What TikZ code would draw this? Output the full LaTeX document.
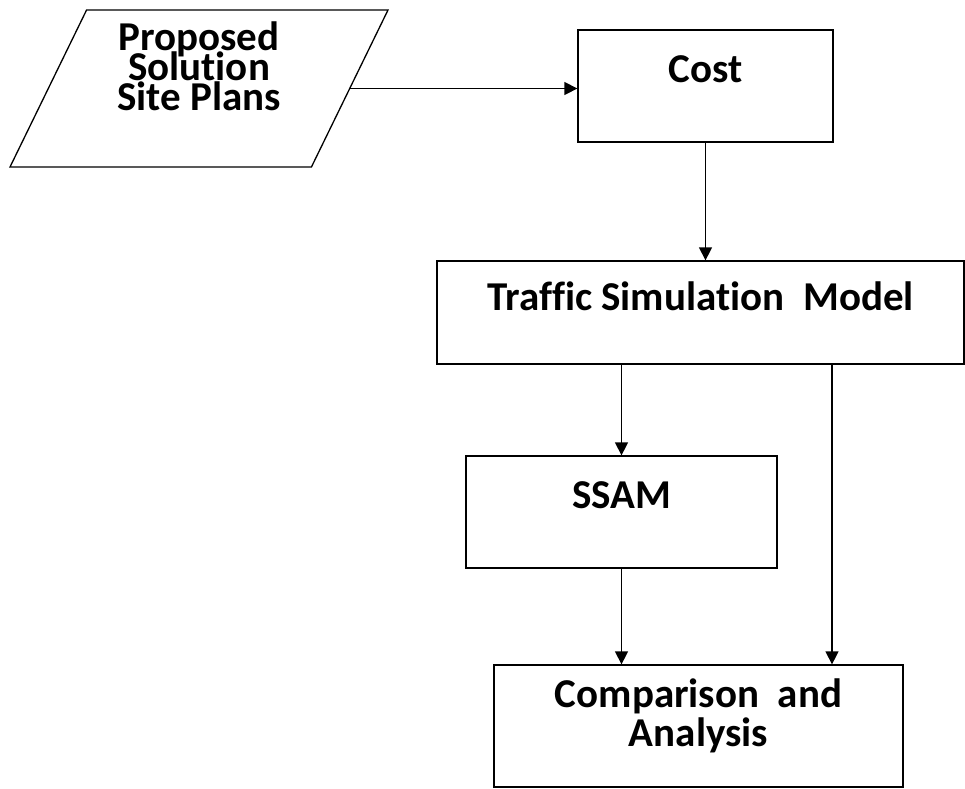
\documentclass[tikz,border=0pt]{standalone}
\usepackage{fontspec}
\setmainfont{Carlito}[Ligatures=NoCommon]
\usetikzlibrary{shapes.geometric, arrows.meta, positioning, calc}
\newcommand{\tightlines}{\lineskiplimit=-50pt\relax}
\tikzstyle{box} = [rectangle, draw=black, line width=1.3pt, inner sep=0pt, align=center, font=\bfseries\fontsize{41}{39}\selectfont]
\tikzstyle{io} = [trapezium, trapezium left angle=64, trapezium right angle=116, trapezium stretches body, draw=black, line width=1.3pt, inner sep=0pt, align=center, font=\bfseries\fontsize{41}{30}\selectfont\tightlines]
\tikzstyle{arrow} = [line width=1.3pt, -{Triangle[length=13pt,width=13pt]}]

\begin{document}
\begin{tikzpicture}[x=1pt, y=-1pt]
\useasboundingbox (0,0) rectangle (965,788);

% Nodes
\node (plans) [io, minimum width=378pt, minimum height=157pt, text height=100pt, text depth=57pt] at (199,88.5) {Proposed\\Solution\\Site Plans};
\node (cost) [box, minimum width=255pt, minimum height=112pt, text height=52pt, text depth=60pt] at (705.5,86) {Cost};
\node (traffic) [box, minimum width=527pt, minimum height=103pt, text height=49pt, text depth=54pt] at (700.5,312.5) {Traffic Simulation~~Model};
\node (ssam) [box, minimum width=311pt, minimum height=112pt, text height=52pt, text depth=60pt] at (621.5,512) {SSAM};
\node (comp) [box, minimum width=409pt, minimum height=122pt, text height=81pt, text depth=41pt] at (698.5,726) {Comparison~~and\\Analysis};

% Arrows
\draw [arrow] (plans.right side) -- (plans.right side -| cost.west);
\draw [arrow] (cost.south) -- (cost.south |- traffic.north);
\draw [arrow] (ssam.north |- traffic.south) -- (ssam.north);
\draw [arrow] (ssam.south) -- (ssam.south |- comp.north);
\draw [arrow] ([xshift=131.5pt]traffic.south) -- ([xshift=131.5pt]traffic.south |- comp.north);

\end{tikzpicture}
\end{document}
